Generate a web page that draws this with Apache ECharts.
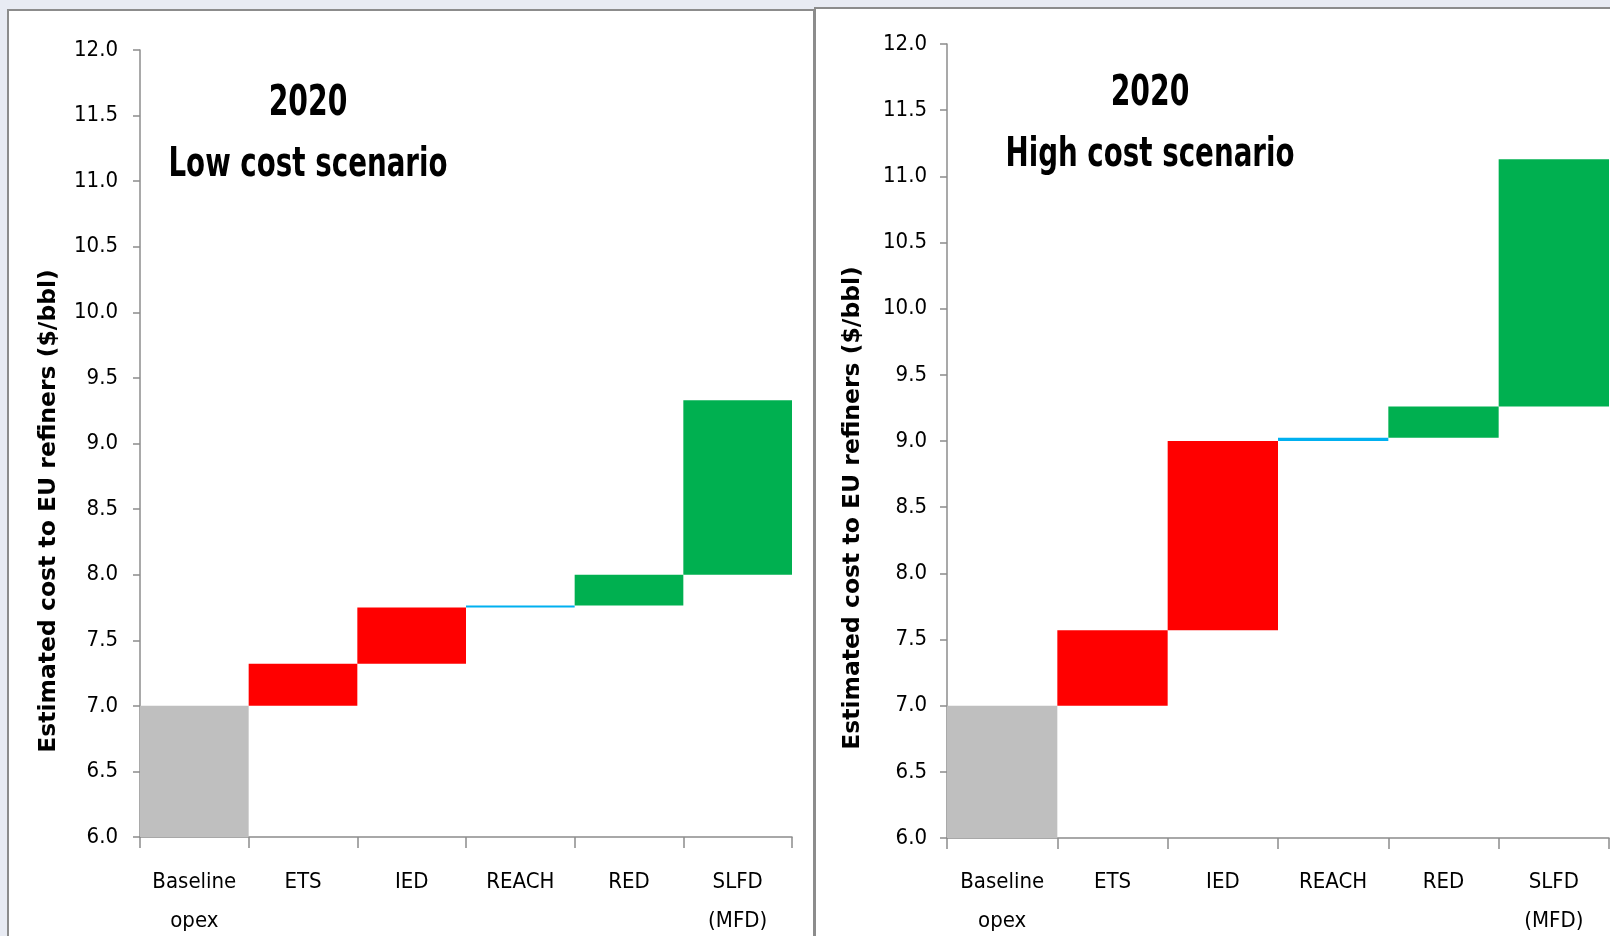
<!DOCTYPE html>
<html>
<head>
<meta charset="utf-8">
<script src="https://cdn.jsdelivr.net/npm/echarts@6/dist/echarts.min.js"></script>
<style>
html,body{margin:0;padding:0;background:#e8ebf3;}
#c{width:1610px;height:936px;}
</style>
</head>
<body>
<div id="c"></div>
<script>
// ---- data ----
var categories = ['Baseline\nopex', 'ETS', 'IED', 'REACH', 'RED', 'SLFD\n(MFD)'];
var baselineOpex = 7.0;
var lowDeltas  = [0.32, 0.43, 0.015, 0.235, 1.33];   // ETS, IED, REACH, RED, SLFD
var highDeltas = [0.57, 1.43, 0.025, 0.235, 1.87];
var deltaColors = ['#FF0000', '#FF0000', '#00B0F0', '#00B050', '#00B050'];
var yTicks = { min: 6, max: 12, interval: 0.5 };
var titleYear = '2020';
var titleLow = 'Low cost scenario';
var titleHigh = 'High cost scenario';
var yName = 'Estimated cost to EU refiners ($/bbl)';

var NARROW = "'Liberation Sans Narrow', 'DejaVu Sans Condensed', sans-serif";

function buildSeries(deltas, idx) {
  var pedestal = [baselineOpex];
  var incr = ['-'];
  var cum = baselineOpex;
  for (var i = 0; i < deltas.length; i++) {
    pedestal.push(cum);
    incr.push(deltas[i]);
    cum += deltas[i];
  }
  return [
    {
      type: 'bar', stack: 's' + idx, xAxisIndex: idx, yAxisIndex: idx,
      barCategoryGap: '0%', silent: true,
      data: pedestal.map(function (v, k) {
        return { value: v, itemStyle: { color: k === 0 ? '#BFBFBF' : 'rgba(0,0,0,0)' } };
      })
    },
    {
      type: 'bar', stack: 's' + idx, xAxisIndex: idx, yAxisIndex: idx,
      barCategoryGap: '0%', silent: true,
      data: incr.map(function (v, k) {
        return { value: v, itemStyle: { color: k === 0 ? 'rgba(0,0,0,0)' : deltaColors[k - 1] } };
      })
    }
  ];
}

function xAxis(idx, margin) {
  return {
    type: 'category', gridIndex: idx, data: categories,
    axisLine: { lineStyle: { color: '#8c8c8c', width: 1.5 } },
    axisTick: { show: true, length: 11, lineStyle: { color: '#8c8c8c', width: 1.5 } },
    axisLabel: { color: '#000', fontFamily: NARROW, fontSize: 22, lineHeight: 39, margin: margin, interval: 0 },
    splitLine: { show: false }
  };
}
function yAxis(idx, margin) {
  return {
    type: 'value', gridIndex: idx, min: yTicks.min, max: yTicks.max, interval: yTicks.interval,
    axisLine: { show: true, lineStyle: { color: '#8c8c8c', width: 1.5 } },
    axisTick: { show: true, length: 7, lineStyle: { color: '#8c8c8c', width: 1.5 } },
    axisLabel: { color: '#000', fontFamily: NARROW, fontSize: 22, margin: margin,
      formatter: function (v) { return v.toFixed(1); } },
    splitLine: { show: false }
  };
}

function titleText(x, y, text, size, sx) {
  return { type: 'text', z: 100, x: x, y: y, scaleX: sx, scaleY: 1,
    style: { text: text, fontFamily: NARROW, fontWeight: 'bold', fontSize: size, fill: '#000',
      align: 'center', verticalAlign: 'middle' } };
}

var chart = echarts.init(document.getElementById('c'), null, { renderer: 'canvas' });
chart.setOption({
  backgroundColor: '#e8ebf3',
  animation: false,
  grid: [
    { left: 140, top: 50, right: 818, bottom: 99, containLabel: false, outerBoundsMode: 'none' },
    { left: 947, top: 44, right: 1, bottom: 98, containLabel: false, outerBoundsMode: 'none' }
  ],
  xAxis: [xAxis(0, 26), xAxis(1, 25)],
  yAxis: [yAxis(0, 22), yAxis(1, 20)],
  series: buildSeries(lowDeltas, 0).concat(buildSeries(highDeltas, 1)),
  graphic: [
    { type: 'rect', z: -100, shape: { x: 8, y: 10, width: 806, height: 940 },
      style: { fill: '#ffffff', stroke: '#8c8c8c', lineWidth: 2 } },
    { type: 'rect', z: -100, shape: { x: 815, y: 8, width: 820, height: 940 },
      style: { fill: '#ffffff', stroke: '#8c8c8c', lineWidth: 2 } },
    titleText(308, 104, titleYear, 43, 0.73),
    titleText(308, 166, titleLow, 40, 0.77),
    titleText(1150, 94, titleYear, 43, 0.73),
    titleText(1150, 156, titleHigh, 40, 0.77),
    { type: 'text', z: 100, x: 49, y: 511, rotation: Math.PI / 2,
      style: { text: yName, fontFamily: "'DejaVu Sans', sans-serif", fontWeight: 'bold', fontSize: 23.5, fill: '#000', align: 'center', verticalAlign: 'middle' } },
    { type: 'text', z: 100, x: 853, y: 508, rotation: Math.PI / 2,
      style: { text: yName, fontFamily: "'DejaVu Sans', sans-serif", fontWeight: 'bold', fontSize: 23.5, fill: '#000', align: 'center', verticalAlign: 'middle' } }
  ]
});
</script>
</body>
</html>
